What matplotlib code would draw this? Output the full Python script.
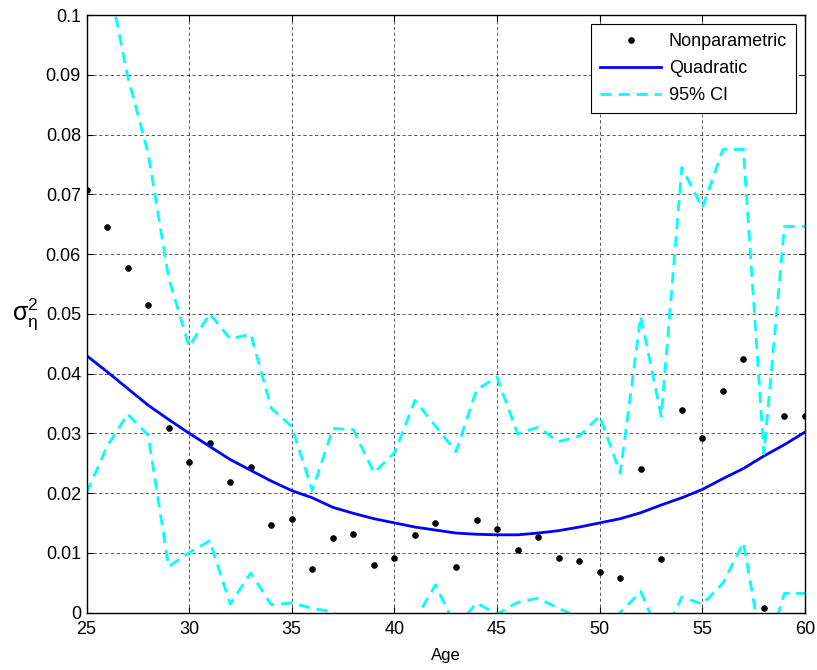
import numpy as np
import matplotlib.pyplot as plt

#---------------------------------------------------------------------------------------------------
# Data
#---------------------------------------------------------------------------------------------------

ages = list(range(25, 61))

nonpar = [0.0707, 0.0645, 0.0576, 0.0514, 0.0309, 0.0252, 0.0284, 0.0218, 0.0243, 0.0146,
          0.0156, 0.0072, 0.0124, 0.0131, 0.0079, 0.0092, 0.0129, 0.0149, 0.0077, 0.0154,
          0.0139, 0.0104, 0.0126, 0.0092, 0.0087, 0.0068, 0.0057, 0.0240, 0.0090, 0.0339,
          0.0292, 0.0371, 0.0425, 0.0008, 0.0329, 0.0329]

quad = [0.0430, 0.0403, 0.0375, 0.0347, 0.0323, 0.0300, 0.0278, 0.0256, 0.0238, 0.0220,
        0.0204, 0.0192, 0.0176, 0.0166, 0.0157, 0.0150, 0.0143, 0.0138, 0.0133, 0.0131,
        0.0130, 0.0130, 0.0133, 0.0137, 0.0143, 0.0150, 0.0157, 0.0167, 0.0180, 0.0192,
        0.0206, 0.0224, 0.0241, 0.0262, 0.0281, 0.0302]

ci_upper = [0.1300, 0.1070, 0.0898, 0.0769, 0.0560, 0.0445, 0.0500, 0.0458, 0.0466, 0.0342,
            0.0311, 0.0204, 0.0308, 0.0306, 0.0234, 0.0267, 0.0355, 0.0312, 0.0269, 0.0373,
            0.0394, 0.0299, 0.0310, 0.0286, 0.0295, 0.0329, 0.0233, 0.0496, 0.0328, 0.0745,
            0.0677, 0.0775, 0.0775, 0.0266, 0.0646, 0.0646]

ci_lower = [0.0200, 0.0278, 0.0332, 0.0297, 0.0077, 0.0100, 0.0120, 0.0014, 0.0066, 0.0013,
            0.0016, 0.0007, 0.0001, -0.0040, -0.0070, -0.0050, -0.0012, 0.0046, -0.0025, 0.0016,
            -0.0003, 0.0017, 0.0024, 0.0007, -0.0008, -0.0040, 0.0000, 0.0035, -0.0045, 0.0026,
            0.0014, 0.0049, 0.0117, -0.0080, 0.0032, 0.0032]

#---------------------------------------------------------------------------------------------------
# Plot
#---------------------------------------------------------------------------------------------------

plt.rcParams['font.family'] = ['Liberation Sans', 'DejaVu Sans']
plt.rcParams['font.size'] = 13
plt.rcParams['mathtext.fontset'] = 'custom'
plt.rcParams['mathtext.rm'] = 'Liberation Sans'

fig = plt.figure(figsize=(8.17, 6.70), dpi=100)
ax = fig.add_axes([0.1059, 0.0858, 0.8794, 0.8918])

ax.plot(ages, nonpar, ls='none', marker='.', ms=7.5, c='k', label='Nonparametric')
ax.plot(ages, quad, c='#0000ff', lw=2, label='Quadratic')
ax.plot(ages, ci_upper, c='#00ffff', lw=2, ls=(0, (4, 2.5)), label='95% CI')
ax.plot(ages, ci_lower, c='#00ffff', lw=2, ls=(0, (4, 2.5)))

ax.set_xlim([25, 60])
ax.set_ylim([0, 0.1])
ax.set_xticks(np.arange(25, 61, 5))
ax.set_yticks(np.arange(0, 0.101, 0.01))
ax.set_yticklabels(['0'] + ['%.2f' % v for v in np.arange(0.01, 0.095, 0.01)] + ['0.1'])

ax.grid(c='k', ls=(0, (4, 3)), lw=0.6, alpha=0.75)
ax.tick_params(direction='in', top=True, right=True, length=4, width=0.8, labelsize=13)
ax.tick_params(axis='x', pad=6)
ax.tick_params(axis='y', pad=4)
for s in ax.spines.values():
    s.set_linewidth(1.0)

ax.set_xlabel('Age', size=12, labelpad=7)
ax.set_ylabel(r'$\mathregular{\sigma_\eta^2}$', size=18, rotation=0, labelpad=15, va='center')

leg = ax.legend(loc='upper right', fontsize=13, fancybox=False, edgecolor='k',
                framealpha=1, handlelength=3.4, handletextpad=0.4, borderaxespad=0.5,
                borderpad=0.5, labelspacing=0.55)
leg.get_frame().set_linewidth(0.8)

plt.savefig('out.png', dpi=100)
